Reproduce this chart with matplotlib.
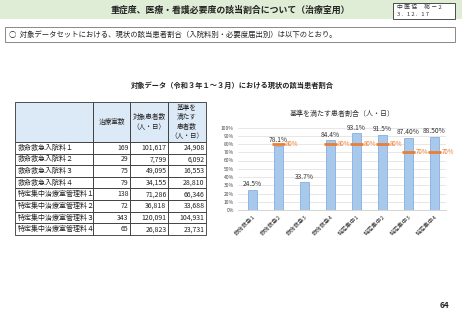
import matplotlib
matplotlib.use("Agg")
import matplotlib.pyplot as plt
from matplotlib.patches import Rectangle

plt.rcParams['font.family'] = ['Noto Sans CJK JP', 'DejaVu Sans']

# table data
row_names = ["救命救急入院料１", "救命救急入院料２", "救命救急入院料３", "救命救急入院料４",
             "特定集中治療室管理料１", "特定集中治療室管理料２", "特定集中治療室管理料３", "特定集中治療室管理料４"]
rooms = [169, 29, 75, 79, 138, 72, 343, 65]
patients = [101617, 7799, 49095, 34155, 71286, 36818, 120091, 26823]
meeting = [24908, 6092, 16553, 28810, 66346, 33688, 104931, 23731]
col_headers = ["", "治療室数", "対象患者数\n（人・日）", "基準を\n満たす\n患者数\n（人・日）"]

# chart data
categories = ["救命救急1", "救命救急2", "救命救急3", "救命救急4",
              "特定集中1", "特定集中2", "特定集中3", "特定集中4"]
ratios = [24.5, 78.1, 33.7, 84.4, 93.1, 91.5, 87.4, 88.5]
ratio_labels = ["24.5%", "78.1%", "33.7%", "84.4%", "93.1%", "91.5%", "87.40%", "88.50%"]
thresholds = [None, 80, None, 80, 80, 80, 70, 70]

W, H = 462, 320
fig = plt.figure(figsize=(W / 100, H / 100), dpi=100)


def fx(px):
    return px / W


def fy(py):
    return 1 - py / H


# header band
fig.patches.append(Rectangle((0, fy(19)), 1, 19 / H, transform=fig.transFigure,
                             facecolor="#dfedd6", edgecolor="none", zorder=0))
fig.text(fx(230), fy(10), "重症度、医療・看護必要度の該当割合について（治療室用）",
         ha="center", va="center", fontsize=6.4, fontweight="bold", color="#222222")
fig.patches.append(Rectangle((fx(393), fy(19)), 62 / W, 16 / H, transform=fig.transFigure,
                             facecolor="white", edgecolor="#333333", linewidth=0.6, zorder=1))
fig.text(fx(397), fy(7.5), "中 医 協　 総 － 2", ha="left", va="center", fontsize=4.2, color="#333333")
fig.text(fx(397), fy(14.5), "3 .   1 2 .   1 7", ha="left", va="center", fontsize=4.2, color="#333333")

# note box
fig.patches.append(Rectangle((fx(5), fy(42)), 450 / W, 15 / H, transform=fig.transFigure,
                             facecolor="white", edgecolor="#888888", linewidth=0.7))
fig.text(fx(9), fy(35), "○  対象データセットにおける、現状の該当患者割合（入院料別・必要度届出別）は以下のとおり。",
         ha="left", va="center", fontsize=5.3, color="#222222")

fig.text(fx(232), fy(85), "対象データ（令和３年１～３月）における現状の該当患者割合",
         ha="center", va="center", fontsize=5.2, fontweight="bold", color="#222222")

# table
tax = fig.add_axes([fx(15), fy(235), (206 - 15) / W, (235 - 102) / H])
tax.axis("off")
cells = [[n, f"{r:,}", f"{p:,}", f"{m:,}"] for n, r, p, m in zip(row_names, rooms, patients, meeting)]
tbl = tax.table(cellText=cells, colLabels=col_headers, bbox=[0, 0, 1, 1],
                colWidths=[78, 37, 38, 38])
tbl.auto_set_font_size(False)
for (r, c), cell in tbl.get_celld().items():
    cell.set_edgecolor("#333333")
    cell.set_linewidth(0.6)
    cell.PAD = 0.04
    if r == 0:
        cell.set_height(40)
        cell.set_facecolor("#dce9f6")
        cell.get_text().set_ha("center")
        cell.get_text().set_fontsize(4.8)
        cell.get_text().set_linespacing(1.25)
    else:
        cell.set_height(11.65)
        cell.get_text().set_fontsize(5.0)
        if c == 0:
            cell._loc = "left"
            cell.get_text().set_ha("left")
        else:
            cell._loc = "right"
            cell.get_text().set_ha("right")
    cell.get_text().set_color("#222222")

# bar chart
ax = fig.add_axes([fx(238), fy(210), (446 - 238) / W, (210 - 127.5) / H])
x = list(range(len(categories)))
ax.bar(x, ratios, width=0.36, color="#a9c9ec", edgecolor="#86b0de", linewidth=0.6, zorder=2)
for i, (v, lab) in enumerate(zip(ratios, ratio_labels)):
    ax.text(i, v + 2, lab, ha="center", va="bottom", fontsize=4.8, color="#333333")
for i, t in enumerate(thresholds):
    if t is not None:
        ax.plot([i - 0.25, i + 0.25], [t, t], color="#ed7d31", linewidth=2.0,
                solid_capstyle="butt", zorder=3)
        ax.text(i + 0.3, t, f"{t}%", ha="left", va="center", fontsize=4.5, color="#ed7d31")
ax.set_xlim(-0.55, 7.45)
ax.set_ylim(0, 100)
ax.set_yticks(range(0, 101, 10))
ax.set_yticklabels([f"{v}%" for v in range(0, 101, 10)], fontsize=3.6, color="#444444")
ax.set_xticks(x)
ax.set_xticklabels(categories, rotation=45, ha="right", rotation_mode="anchor",
                   fontsize=4.2, color="#333333")
ax.tick_params(length=0, pad=3)
ax.grid(axis="y", color="#dddddd", linewidth=0.5, zorder=0)
for s in ["top", "right", "left"]:
    ax.spines[s].set_visible(False)
ax.spines["bottom"].set_color("#cccccc")
ax.spines["bottom"].set_linewidth(0.6)
ax.set_title("基準を満たす患者割合（人・日）", fontsize=5.0, color="#333333", pad=8)

fig.text(fx(444), fy(305), "64", ha="center", va="center", fontsize=6, fontweight="bold", color="#222222")

fig.savefig("out.png", dpi=100)
